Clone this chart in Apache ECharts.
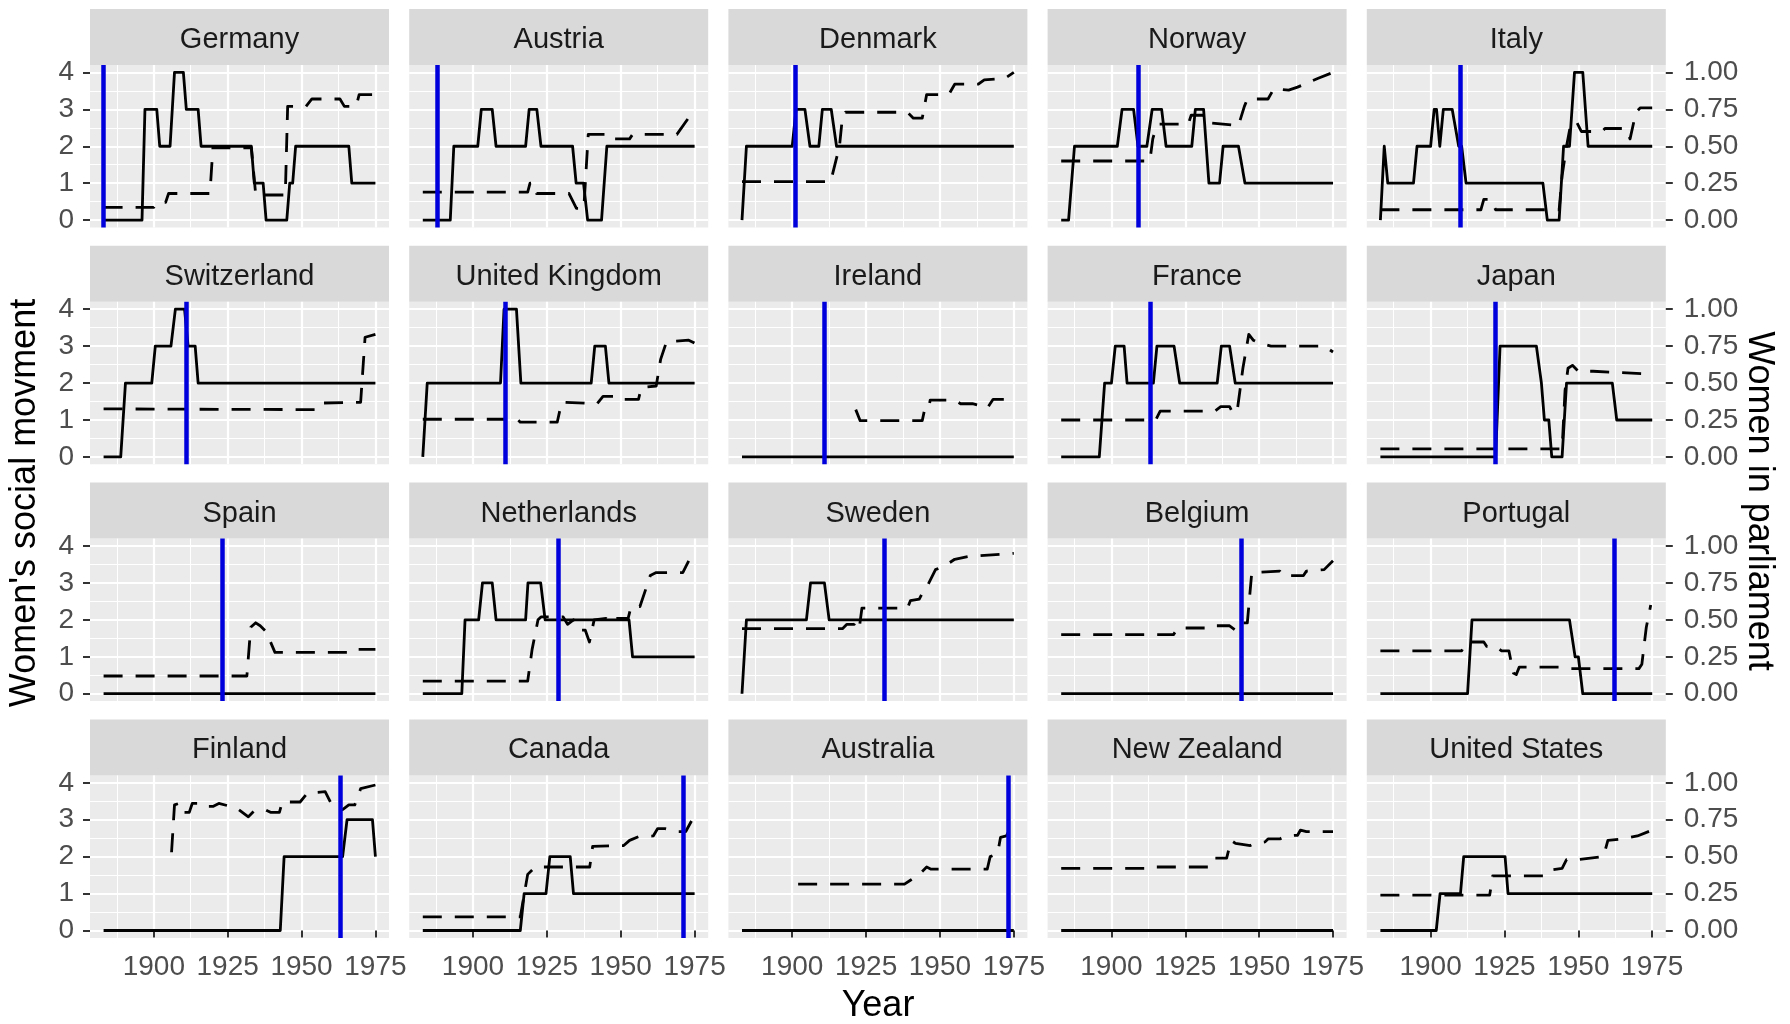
<!DOCTYPE html>
<html><head><meta charset="utf-8">
<script src="https://cdn.jsdelivr.net/npm/echarts@6/dist/echarts.min.js"></script>
<style>html,body{margin:0;padding:0;background:#fff}#c{width:1790px;height:1024px}</style>
</head><body><div id="c"></div>
<script>
// ---------- data ----------
const countries = ['Germany','Austria','Denmark','Norway','Italy',
  'Switzerland','United Kingdom','Ireland','France','Japan',
  'Spain','Netherlands','Sweden','Belgium','Portugal',
  'Finland','Canada','Australia','New Zealand','United States'];
const yearTicks = [1900,1925,1950,1975];
const yearMinor = [1887.5,1912.5,1937.5,1962.5];
const movementTicks = [0,1,2,3,4];
const movementMinor = [0.5,1.5,2.5,3.5];
const parliamentTicks = [0,0.25,0.5,0.75,1];
const blueYears = [1883,1888,1901,1909,1910,1911,1911,1911,1913,1922,1923,1929,1931,1944,1962,1963,1971,1973,null,null];

// Women's social movement (solid, left axis 0-4)
const movGermany = [[1883,0],[1896,0],[1897,3],[1901,3],[1902,2],[1905.5,2],[1907,4],[1910,4],[1911,3],[1915,3],[1916,2],[1933,2],[1934,1],[1937,1],[1938,0],[1945,0],[1946,1],[1947,1],[1948,2],[1966,2],[1967,1],[1975,1]];
const movAustria = [[1883,0],[1892.3,0],[1893.5,2],[1901.6,2],[1902.8,3],[1906.5,3],[1907.8,2],[1917.8,2],[1919,3],[1921.6,3],[1923,2],[1933.7,2],[1934.9,1],[1937.4,1],[1938.8,0],[1943.5,0],[1945.3,2],[1975,2]];
const movDenmark = [[1883,0],[1884.5,2],[1900,2],[1901.3,3],[1904.3,3],[1906,2],[1909,2],[1910.2,3],[1913.2,3],[1915,2],[1975,2]];
const movNorway = [[1883,0],[1885.5,0],[1887.5,2],[1902,2],[1903.6,3],[1907.5,3],[1909,2],[1912,2],[1913.8,3],[1917,3],[1918.5,2],[1927.2,2],[1928.4,3],[1931.2,3],[1933,1],[1936.6,1],[1937.8,2],[1943,2],[1945.2,1],[1975,1]];
const movItaly = [[1883,0],[1884.3,2],[1885.5,1],[1894.2,1],[1895.4,2],[1900,2],[1901.2,3],[1902,3],[1903.1,2],[1904.3,3],[1907.3,3],[1909.5,2],[1910.5,2],[1912,1],[1938,1],[1939.5,0],[1943.5,0],[1945,2],[1947,2],[1948.7,4],[1951.5,4],[1953.3,2],[1975,2]];
const movSwitzerland = [[1883,0],[1888.8,0],[1890.4,2],[1899.3,2],[1900.5,3],[1905.8,3],[1907.3,4],[1910.4,4],[1911.6,3],[1914,3],[1915,2],[1975,2]];
const movUnitedKingdom = [[1883,0],[1884.5,2],[1909.3,2],[1910.5,4],[1914.7,4],[1916.2,2],[1940,2],[1941.2,3],[1944.8,3],[1946,2],[1975,2]];
const movIreland = [[1883,0],[1975,0]];
const movFrance = [[1883,0],[1895.9,0],[1897.7,2],[1900,2],[1901.3,3],[1904.3,3],[1905.3,2],[1914.2,2],[1915.4,3],[1921.2,3],[1923.1,2],[1935.8,2],[1937.2,3],[1940,3],[1941.9,2],[1975,2]];
const movJapan = [[1883,0],[1922,0],[1923.5,3],[1935.8,3],[1937.5,2],[1938.5,1],[1940,1],[1941,0],[1944.5,0],[1946,2],[1961.5,2],[1963,1],[1975,1]];
const movSpain = [[1883,0],[1975,0]];
const movNetherlands = [[1883,0],[1896.2,0],[1897.3,2],[1901.9,2],[1903.2,3],[1906.5,3],[1907.8,2],[1917.8,2],[1918.6,3],[1922.9,3],[1924.4,2],[1952.8,2],[1954,1],[1975,1]];
const movSweden = [[1883,0],[1884.5,2],[1904.8,2],[1906.2,3],[1910.9,3],[1912.5,2],[1975,2]];
const movBelgium = [[1883,0],[1975,0]];
const movPortugal = [[1883,0],[1912.5,0],[1914,2],[1947,2],[1948.9,1],[1950,1],[1951.5,0],[1975,0]];
const movFinland = [[1883,0],[1942.8,0],[1944.1,2],[1963.9,2],[1965.4,3],[1974,3],[1975,2]];
const movCanada = [[1883,0],[1916,0],[1917.3,1],[1924.7,1],[1926,2],[1932.9,2],[1934,1],[1975,1]];
const movAustralia = [[1883,0],[1975,0]];
const movNewZealand = [[1883,0],[1975,0]];
const movUnitedStates = [[1883,0],[1901.9,0],[1903.2,1],[1910.1,1],[1911.2,2],[1925.2,2],[1926.2,1],[1975,1]];

// Women in parliament (dashed, right axis 0-1)
const parGermany = [[1883,0.086],[1900,0.086],[1901,0.12],[1904,0.12],[1905,0.18],[1919,0.18],[1920,0.49],[1933,0.49],[1934.5,0.17],[1944.5,0.17],[1945.3,0.77],[1951.5,0.77],[1953.5,0.82],[1963,0.82],[1964.5,0.77],[1968.5,0.77],[1969.5,0.85],[1975,0.85]];
const parAustria = [[1883,0.19],[1918.5,0.19],[1919.3,0.25],[1920.5,0.25],[1921.5,0.18],[1932.5,0.18],[1935,0.08],[1937.5,0.08],[1939,0.58],[1946.5,0.58],[1947.5,0.55],[1953,0.55],[1954,0.58],[1969,0.58],[1975,0.75]];
const parDenmark = [[1883,0.26],[1913,0.26],[1916,0.5],[1917,0.7],[1918,0.73],[1939,0.73],[1941,0.69],[1944,0.69],[1945.5,0.85],[1953,0.85],[1955,0.92],[1963,0.92],[1965,0.95],[1972,0.96],[1975,1.0]];
const parNorway = [[1883,0.40],[1913,0.40],[1914,0.55],[1915,0.62],[1916,0.65],[1926,0.65],[1927,0.71],[1931,0.71],[1932,0.66],[1943,0.64],[1945,0.77],[1946,0.82],[1953,0.82],[1955,0.89],[1960,0.88],[1963,0.9],[1970,0.96],[1975,1.0]];
const parItaly = [[1883,0.07],[1917,0.07],[1918,0.14],[1920.5,0.14],[1922,0.07],[1943.5,0.07],[1944.5,0.3],[1946,0.5],[1947.5,0.66],[1949.5,0.66],[1951,0.6],[1958,0.6],[1959,0.62],[1966,0.62],[1967.5,0.55],[1969.5,0.73],[1971,0.76],[1975,0.76]];
const parSwitzerland = [[1883,0.325],[1956,0.32],[1957.5,0.365],[1970,0.37],[1971.5,0.81],[1975,0.83]];
const parUnitedKingdom = [[1883,0.255],[1915,0.255],[1916,0.235],[1928.5,0.235],[1930,0.37],[1942,0.36],[1944,0.41],[1949,0.41],[1950,0.39],[1956,0.39],[1957,0.47],[1962,0.48],[1963.5,0.66],[1965.5,0.78],[1973,0.79],[1975,0.77]];
const parIreland = [[1921.5,0.32],[1923,0.245],[1944,0.245],[1944.7,0.31],[1946,0.31],[1946.7,0.385],[1955,0.385],[1957,0.36],[1961,0.36],[1963,0.35],[1966,0.33],[1968,0.39],[1973,0.39],[1975,0.41]];
const parFrance = [[1883,0.25],[1915,0.25],[1916.5,0.31],[1935,0.31],[1937,0.34],[1940,0.34],[1941,0.3],[1942.5,0.3],[1944.5,0.6],[1946.5,0.83],[1948,0.79],[1950,0.77],[1954,0.75],[1972,0.75],[1975,0.71]];
const parJapan = [[1883,0.055],[1944.5,0.055],[1945.5,0.45],[1946.5,0.6],[1948,0.62],[1950,0.58],[1955,0.58],[1975,0.56]];
const parSpain = [[1883,0.12],[1931.5,0.12],[1932.8,0.45],[1934.5,0.48],[1936,0.46],[1938,0.42],[1941,0.28],[1966,0.28],[1967,0.3],[1975,0.3]];
const parNetherlands = [[1883,0.085],[1918.5,0.085],[1920,0.3],[1922,0.5],[1923,0.52],[1930.5,0.52],[1932,0.47],[1934,0.5],[1936,0.43],[1938,0.43],[1939.4,0.35],[1941,0.5],[1945,0.51],[1947,0.48],[1948.5,0.51],[1952.5,0.51],[1953.5,0.59],[1956.5,0.59],[1960,0.8],[1962,0.82],[1971,0.82],[1973,0.9]];
const parSweden = [[1883,0.44],[1917,0.44],[1918.5,0.47],[1921,0.47],[1922,0.5],[1922.8,0.46],[1923.6,0.58],[1939,0.58],[1940,0.63],[1943,0.64],[1944.5,0.7],[1946,0.74],[1948.5,0.84],[1952,0.87],[1955,0.91],[1960,0.93],[1975,0.95]];
const parBelgium = [[1883,0.4],[1921,0.4],[1922.5,0.445],[1934,0.445],[1935,0.46],[1940,0.46],[1942,0.43],[1943.5,0.44],[1944.5,0.48],[1946,0.48],[1947.5,0.82],[1957,0.83],[1958,0.8],[1965,0.8],[1966,0.83],[1972,0.84],[1975,0.9]];
const parPortugal = [[1883,0.29],[1910.5,0.29],[1912,0.35],[1918,0.35],[1919,0.32],[1922,0.32],[1924,0.29],[1926.5,0.29],[1928,0.14],[1929,0.13],[1930,0.18],[1945,0.18],[1947,0.17],[1970.5,0.17],[1971.5,0.2],[1973,0.45],[1974.5,0.6]];
const parFinland = [[1906,0.53],[1907,0.85],[1908.5,0.86],[1909.5,0.8],[1912,0.8],[1913,0.86],[1917,0.86],[1918,0.84],[1920,0.84],[1922,0.86],[1926,0.84],[1928,0.83],[1932,0.77],[1934,0.81],[1938,0.815],[1939.5,0.8],[1942.5,0.8],[1943.5,0.87],[1949.5,0.87],[1952,0.93],[1958,0.94],[1960,0.86],[1962.5,0.81],[1964,0.82],[1966,0.85],[1968,0.85],[1970,0.96],[1975,0.985]];
const parCanada = [[1883,0.092],[1916,0.092],[1918.5,0.38],[1921,0.43],[1939.5,0.43],[1940.5,0.57],[1951,0.575],[1953,0.61],[1956,0.635],[1961,0.64],[1962.5,0.69],[1965,0.69],[1969,0.67],[1972,0.67],[1975,0.78]];
const parAustralia = [[1902,0.314],[1938,0.314],[1940,0.34],[1943,0.38],[1944,0.4],[1945.5,0.43],[1947,0.415],[1966,0.415],[1967,0.5],[1969.5,0.52],[1970.5,0.63],[1972.5,0.64],[1974,0.7],[1975,0.71]];
const parNewZealand = [[1883,0.42],[1914,0.42],[1915,0.43],[1933,0.43],[1934.5,0.49],[1939,0.49],[1940.5,0.61],[1942,0.59],[1947,0.575],[1948.5,0.59],[1952,0.6],[1953,0.62],[1957,0.62],[1959,0.64],[1963,0.645],[1964,0.68],[1966,0.67],[1975,0.67]];
const parUnitedStates = [[1883,0.24],[1920,0.24],[1921,0.37],[1939,0.37],[1941,0.41],[1944.5,0.42],[1946,0.48],[1950,0.48],[1958.5,0.5],[1960,0.61],[1965,0.62],[1970,0.64],[1975,0.68]];

const movement = [movGermany,movAustria,movDenmark,movNorway,movItaly,movSwitzerland,movUnitedKingdom,movIreland,movFrance,movJapan,movSpain,movNetherlands,movSweden,movBelgium,movPortugal,movFinland,movCanada,movAustralia,movNewZealand,movUnitedStates];
const parliament = [parGermany,parAustria,parDenmark,parNorway,parItaly,parSwitzerland,parUnitedKingdom,parIreland,parFrance,parJapan,parSpain,parNetherlands,parSweden,parBelgium,parPortugal,parFinland,parCanada,parAustralia,parNewZealand,parUnitedStates];

// ---------- layout ----------
const FONT = '"Liberation Sans", Arial, sans-serif';
const L0 = 90, COLW = 299, COLP = 319.2;
const T0 = 65, ROWH = 162.5, ROWP = 236.8, STRIP = 56;
const XMIN = 1878.4, XMAX = 1979.6;

const grid = [], xAxis = [], yAxis = [], series = [], graphic = [];
countries.forEach((name, i) => {
  const r = Math.floor(i / 5), c = i % 5;
  const left = L0 + c * COLP, top = T0 + r * ROWP;
  grid.push({left, top, width: COLW, height: ROWH, show: true, backgroundColor: '#ebebeb', borderWidth: 0});
  xAxis.push({type: 'value', gridIndex: i, position: 'bottom', min: XMIN, max: XMAX,
    axisLine: {show: false},
    axisTick: {show: r === 3, length: 7, lineStyle: {color: '#333', width: 2}, customValues: yearTicks},
    axisLabel: {show: r === 3, customValues: yearTicks, formatter: v => String(v), fontSize: 28, color: '#4d4d4d', margin: 15, fontFamily: FONT},
    splitLine: {show: true, lineStyle: {color: '#ffffff', width: 2.2}}});
  xAxis.push({type: 'value', gridIndex: i, position: 'top', min: XMIN, max: XMAX,
    axisLine: {show: false}, axisTick: {show: false, customValues: yearMinor}, axisLabel: {show: false},
    splitLine: {show: true, lineStyle: {color: '#ffffff', width: 1.1}}});
  yAxis.push({type: 'value', gridIndex: i, position: 'left', min: -0.2, max: 4.2,
    axisLine: {show: false},
    axisTick: {show: c === 0, length: 7, lineStyle: {color: '#333', width: 2}, customValues: movementTicks},
    axisLabel: {show: c === 0, customValues: movementTicks, formatter: v => String(v), fontSize: 28, color: '#4d4d4d', margin: 16, fontFamily: FONT},
    splitLine: {show: true, lineStyle: {color: '#ffffff', width: 2.2}}});
  yAxis.push({type: 'value', gridIndex: i, position: 'right', min: -0.05, max: 1.05,
    axisLine: {show: false},
    axisTick: {show: c === 4, length: 7, lineStyle: {color: '#333', width: 2}, customValues: parliamentTicks},
    axisLabel: {show: c === 4, customValues: parliamentTicks, formatter: v => v.toFixed(2), fontSize: 28, color: '#4d4d4d', margin: 18, fontFamily: FONT},
    splitLine: {show: false}});
  yAxis.push({type: 'value', gridIndex: i, position: 'left', min: -0.2, max: 4.2,
    axisLine: {show: false}, axisTick: {show: false, customValues: movementMinor}, axisLabel: {show: false},
    splitLine: {show: true, lineStyle: {color: '#ffffff', width: 1.1}}});

  const solid = {type: 'line', name: name + ' movement', xAxisIndex: 2 * i, yAxisIndex: 3 * i, data: movement[i],
    symbol: 'none', showSymbol: false, silent: true, animation: false, z: 3,
    lineStyle: {color: '#000', width: 2.8, join: 'round', cap: 'butt'}};
  if (blueYears[i] !== null) {
    solid.markLine = {silent: true, animation: false, symbol: ['none', 'none'], label: {show: false},
      lineStyle: {color: '#0000dd', width: 4.5, type: 'solid'}, emphasis: {disabled: true},
      data: [{xAxis: blueYears[i]}]};
  }
  series.push(solid);
  series.push({type: 'line', name: name + ' parliament', xAxisIndex: 2 * i, yAxisIndex: 3 * i + 1, data: parliament[i],
    symbol: 'none', showSymbol: false, silent: true, animation: false, z: 3,
    lineStyle: {color: '#000', width: 2.8, type: [19, 13], join: 'round', cap: 'butt'}});

  graphic.push({type: 'rect', shape: {x: left, y: top - STRIP, width: COLW, height: STRIP}, style: {fill: '#d9d9d9'}, silent: true, z: 0});
  graphic.push({type: 'text', x: left + COLW / 2, y: top - STRIP / 2 + 3, silent: true, z: 1,
    style: {text: name, fontSize: 29, fontFamily: FONT, fill: '#1a1a1a', align: 'center', verticalAlign: 'middle', textAlign: 'center', textVerticalAlign: 'middle'}});
});

graphic.push({type: 'text', x: 25, y: 503, rotation: Math.PI / 2, silent: true,
  style: {text: "Women's social movment", fontSize: 36, fontFamily: FONT, fill: '#000', align: 'center', verticalAlign: 'middle', textAlign: 'center', textVerticalAlign: 'middle'}});
graphic.push({type: 'text', x: 1759, y: 501, rotation: -Math.PI / 2, silent: true,
  style: {text: 'Women in parliament', fontSize: 36, fontFamily: FONT, fill: '#000', align: 'center', verticalAlign: 'middle', textAlign: 'center', textVerticalAlign: 'middle'}});
graphic.push({type: 'text', x: 878, y: 1006, silent: true,
  style: {text: 'Year', fontSize: 36, fontFamily: FONT, fill: '#000', align: 'center', verticalAlign: 'middle', textAlign: 'center', textVerticalAlign: 'middle'}});

const chart = echarts.init(document.getElementById('c'), null, {renderer: 'canvas'});
chart.setOption({backgroundColor: '#ffffff', animation: false, grid, xAxis, yAxis, series, graphic});
</script>
</body></html>
